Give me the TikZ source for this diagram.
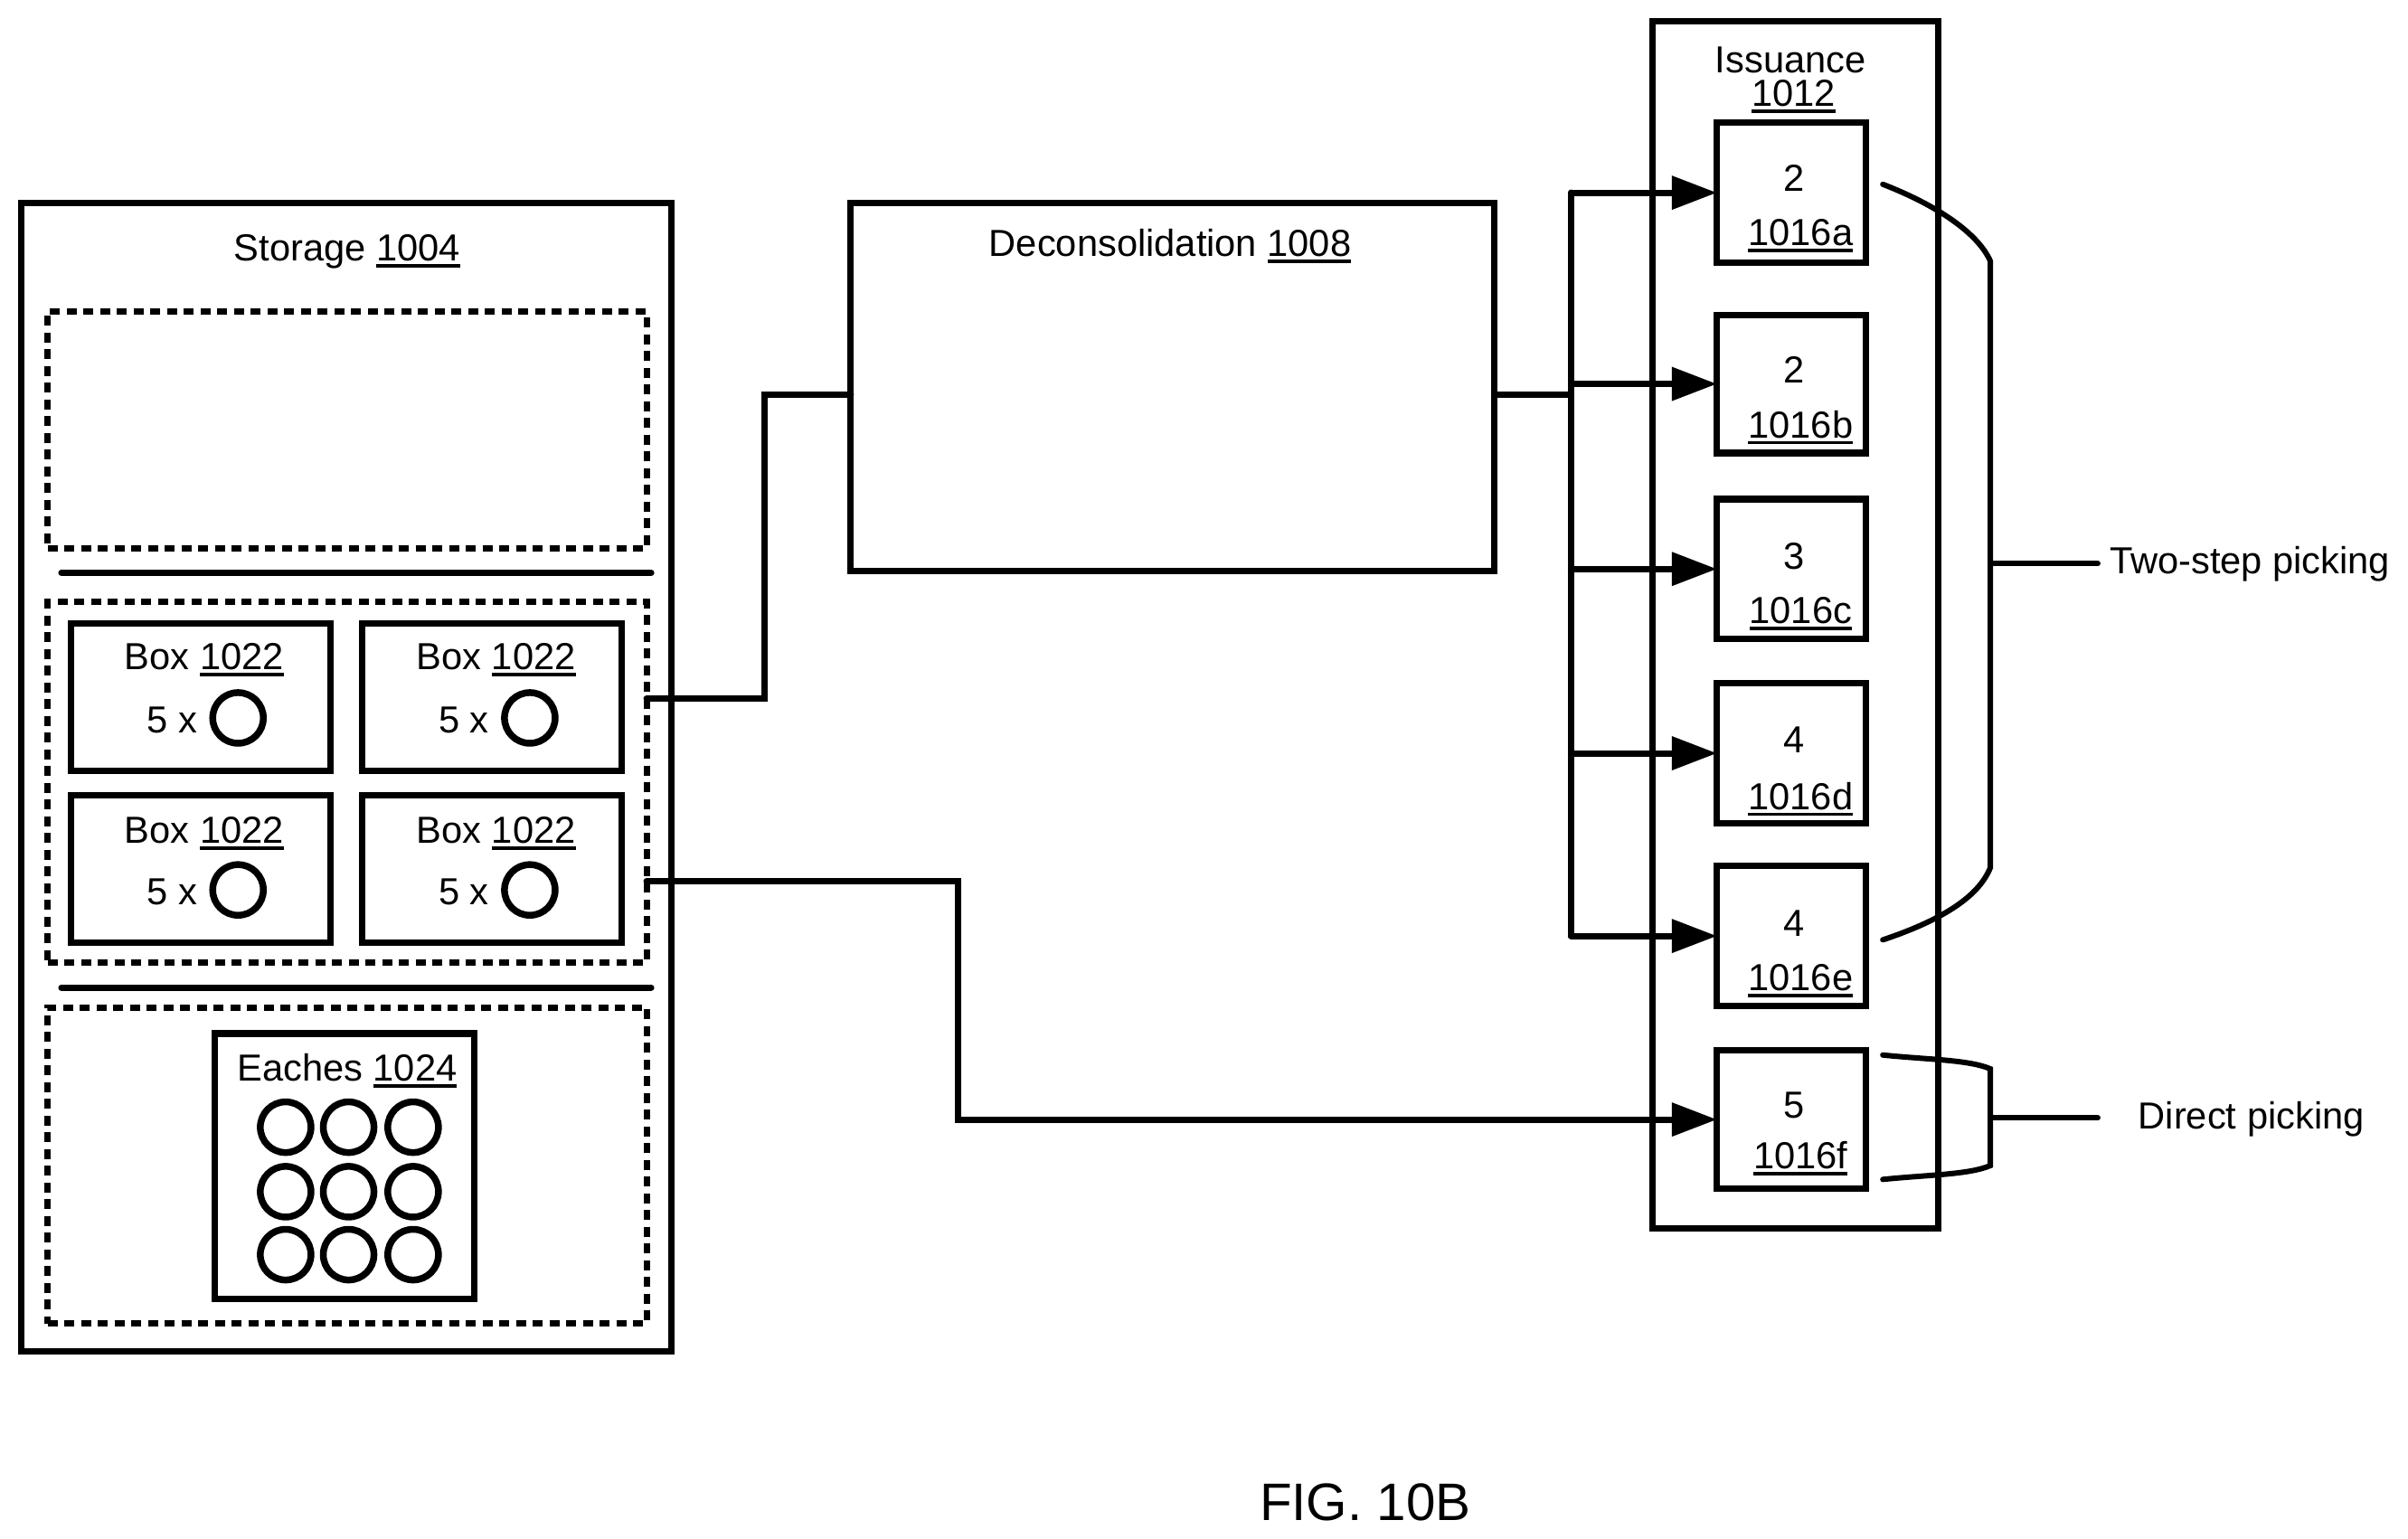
\documentclass[tikz,border=0pt]{standalone}
\usepackage{fontspec}
\setmainfont{Liberation Sans}
\usetikzlibrary{arrows.meta,fit}
\def\px{0.16984mm}
\newcommand{\refnum}[1]{\leavevmode\vtop{\hbox{#1}\kern0.9pt\hrule height 1.1pt}}
\tikzset{
    solidbox/.style={draw, line width=0.72mm, inner sep=0pt, outer sep=0pt},
    dashbox/.style={draw, line width=0.7mm, inner sep=0pt, outer sep=0pt, dash pattern=on 1.1mm off 0.75mm},
    ring/.style={draw, circle, line width=0.75mm, inner sep=0pt, outer sep=0pt, minimum size=33*\px},
    txt/.style={inner sep=0pt, font=\fontsize{11.85}{14}\selectfont},
    link/.style={line width=0.7mm, line cap=round},
    feed/.style={line width=0.7mm, line cap=round, -{Triangle[length=5mm,width=3.6mm]}},
    brace/.style={line width=0.6mm, line cap=round}
}
\begin{document}
\begin{tikzpicture}[x=0.16984mm,y=-0.16984mm]
    \useasboundingbox (0,0) rectangle (1568,1002);
    % storage side
    \node [solidbox, fit={(14,132) (437,880)}] (storage) {};
    \node [txt, anchor=base] (storagetxt) at (226,170) {Storage \refnum{1004}};
    \node [dashbox, fit={(31,203) (421,357)}] (pallets) {};
    \node [dashbox, fit={(31,392) (421,627)}] (boxes) {};
    \node [dashbox, fit={(31,656) (421,862)}] (eachesarea) {};
    \coordinate (sepa) at (40,373);
    \coordinate (sepb) at (424,373);
    \coordinate (sepc) at (40,643);
    \coordinate (sepd) at (424,643);
    \draw [link] (sepa) -- (sepb);
    \draw [link] (sepc) -- (sepd);
    \foreach \i/\x/\y/\off in {1/46/406/30, 2/236/406/30, 3/46/518/31, 4/236/518/31} {
        \node [solidbox, fit={(\x,\y) (\x+169,\y+96)}] (box\i) {};
        \node [txt, anchor=base] (boxtxt\i) at (\x+87,\y+\off) {Box \refnum{1022}};
        \node [txt] (count\i) at (\x+66,\y+63) {5 x};
        \node [ring] (boxring\i) at (\x+109,\y+61.5) {};
    }
    \node [solidbox, fit={(140,673) (309,846)}] (eaches) {};
    \node [txt, anchor=base] (eachestxt) at (226,704) {Eaches \refnum{1024}};
    \foreach \x in {186,227,269} {
        \foreach \y in {734,776,817} {
            \node [ring] (each\x\y) at (\x,\y) {};
        }
    }
    % deconsolidation
    \node [solidbox, fit={(554,132) (973,372)}] (decon) {};
    \node [txt, anchor=base] (decontxt) at (762,167) {Deconsolidation \refnum{1008}};
    % issuance
    \node [solidbox, fit={(1076,14) (1262,800)}] (issuance) {};
    \node [txt] (issuetxt) at (1166,39) {Issuance};
    \node [txt, anchor=base] (issuenum) at (1168,69) {\refnum{1012}};
    \foreach \n/\num/\top/\bot/\ytop/\ybot in {a/2/80/171/116/160, b/2/205/295/241/285, c/3/325/416/362/406, d/4/445/536/482/527, e/4/564/655/601/645, f/5/684/774/720/761} {
        \node [solidbox, fit={(1118,\top) (1215,\bot)}] (bin\n) {};
        \node [txt] (binqty\n) at (1168,\ytop) {\num};
        \node [txt, anchor=base] (bintxt\n) at (1172.5,\ybot) {\refnum{1016\n}};
    }
    % connectors
    \coordinate (boxout) at (421,455);
    \coordinate (deconin) at (554,257);
    \draw [link] (boxout) -| (498,257) -- (deconin);
    \coordinate (deconout) at (973,257);
    \coordinate (bus) at (1023,257);
    \draw [link] (deconout) -- (bus);
    \draw [link] (bus |- bina.west) -- (bus |- bine.west);
    \foreach \n in {a,b,c,d,e} {
        \draw [feed] (bus |- bin\n.west) -- (bin\n.west);
    }
    \coordinate (directout) at (421,574);
    \draw [feed] (directout) -| (624,729) -- (binf.west);
    % picking
    \coordinate (twoa) at (1226,120);
    \coordinate (twob) at (1226,612);
    \coordinate (twostem) at (1296,367);
    \coordinate (twoend) at (1366,367);
    \draw [brace] (twoa) .. controls (1262,134) and (1288,152) .. (1296,170) -- (1296,565) .. controls (1288,585) and (1262,600) .. (twob);
    \draw [brace] (twostem) -- (twoend);
    \node [txt] (twotxt) at (1465,367.5) {Two-step picking};
    \coordinate (dira) at (1226,687);
    \coordinate (dirb) at (1226,768);
    \coordinate (dirstem) at (1296,728);
    \coordinate (dirend) at (1366,728);
    \draw [brace] (dira) .. controls (1255,690) and (1282,690) .. (1296,696) -- (1296,759) .. controls (1282,765) and (1255,765) .. (dirb);
    \draw [brace] (dirstem) -- (dirend);
    \node [txt] (dirtxt) at (1466,728.5) {Direct picking};
    \node [inner sep=0pt, font=\fontsize{16.6}{20}\selectfont] (figtxt) at (889,978) {FIG. 10B};
\end{tikzpicture}
\end{document}
